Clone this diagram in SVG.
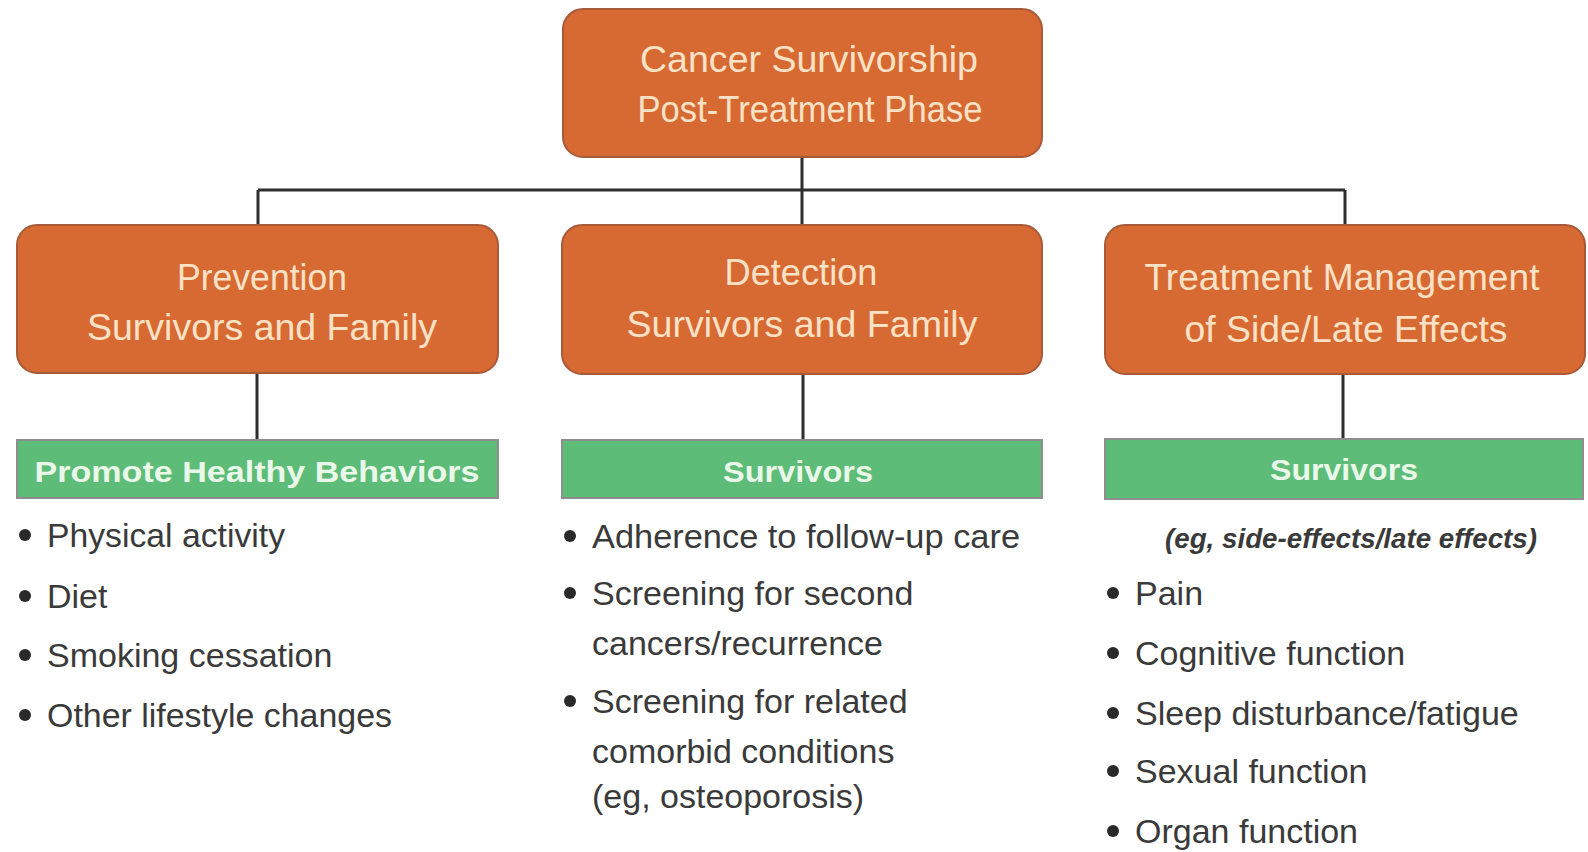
<svg xmlns="http://www.w3.org/2000/svg" width="1588" height="852" viewBox="0 0 1588 852">
<defs>
<style>
.ob{fill:#D76A33;stroke:#A65A3A;stroke-width:2}
.gb{fill:#5DBC77;stroke:#8E8E8E;stroke-width:2}
.ot{font-family:"Liberation Sans",Arial,sans-serif;font-size:37px;fill:#FBE2C6;text-anchor:middle}
.gt{font-family:"Liberation Sans",Arial,sans-serif;font-size:30px;font-weight:bold;fill:#EAF8EA;text-anchor:middle}
.lt{font-family:"Liberation Sans",Arial,sans-serif;font-size:34px;fill:#3A3A3A}
.it{font-family:"Liberation Sans",Arial,sans-serif;font-size:27px;font-weight:bold;font-style:italic;fill:#3A3A3A;text-anchor:middle}
.bu{fill:#2A2A2A}
.cn{fill:none;stroke:#2E2E2E;stroke-width:3}
</style>
</defs>
<rect width="1588" height="852" fill="#FFFFFF"/>
<g id="connectors">
<path class="cn" d="M802 157 V190 M258 190 H1345 M258 190 V225 M802 190 V225 M1345 190 V225"/>
<path class="cn" d="M257 373 V440 M803 374 V440 M1343 374 V439"/>
</g>
<g id="root">
<rect class="ob" x="563" y="9" width="479" height="148" rx="20"/>
<text class="ot" x="809" y="72" textLength="338" lengthAdjust="spacingAndGlyphs">Cancer Survivorship</text>
<text class="ot" x="810" y="122" textLength="345" lengthAdjust="spacingAndGlyphs">Post-Treatment Phase</text>
</g>
<g id="prevention">
<rect class="ob" x="17" y="225" width="481" height="148" rx="20"/>
<text class="ot" x="262" y="290" textLength="170" lengthAdjust="spacingAndGlyphs">Prevention</text>
<text class="ot" x="262" y="340" textLength="350" lengthAdjust="spacingAndGlyphs">Survivors and Family</text>
</g>
<g id="detection">
<rect class="ob" x="562" y="225" width="480" height="149" rx="20"/>
<text class="ot" x="801" y="285" textLength="153" lengthAdjust="spacingAndGlyphs">Detection</text>
<text class="ot" x="802" y="337" textLength="351" lengthAdjust="spacingAndGlyphs">Survivors and Family</text>
</g>
<g id="treatment">
<rect class="ob" x="1105" y="225" width="480" height="149" rx="20"/>
<text class="ot" x="1342" y="290" textLength="395" lengthAdjust="spacingAndGlyphs">Treatment Management</text>
<text class="ot" x="1346" y="342" textLength="323" lengthAdjust="spacingAndGlyphs">of Side/Late Effects</text>
</g>
<g id="promote">
<rect class="gb" x="17" y="440" width="481" height="58"/>
<text class="gt" x="257" y="482" textLength="445" lengthAdjust="spacingAndGlyphs">Promote Healthy Behaviors</text>
</g>
<g id="survivors-detection">
<rect class="gb" x="562" y="440" width="480" height="58"/>
<text class="gt" x="798" y="482" textLength="150" lengthAdjust="spacingAndGlyphs">Survivors</text>
</g>
<g id="survivors-treatment">
<rect class="gb" x="1105" y="439" width="478" height="60"/>
<text class="gt" x="1344" y="480" textLength="148" lengthAdjust="spacingAndGlyphs">Survivors</text>
</g>
<g id="list-prevention">
<circle class="bu" cx="25" cy="535" r="6"/><text class="lt" x="47" y="547" textLength="238" lengthAdjust="spacingAndGlyphs">Physical activity</text>
<circle class="bu" cx="25" cy="596" r="6"/><text class="lt" x="47" y="608">Diet</text>
<circle class="bu" cx="25" cy="655" r="6"/><text class="lt" x="47" y="667">Smoking cessation</text>
<circle class="bu" cx="25" cy="715" r="6"/><text class="lt" x="47" y="727" textLength="345" lengthAdjust="spacingAndGlyphs">Other lifestyle changes</text>
</g>
<g id="list-detection">
<circle class="bu" cx="570" cy="536" r="6"/><text class="lt" x="592" y="548" textLength="428" lengthAdjust="spacingAndGlyphs">Adherence to follow-up care</text>
<circle class="bu" cx="570" cy="593" r="6"/><text class="lt" x="592" y="605">Screening for second</text>
<text class="lt" x="592" y="655">cancers/recurrence</text>
<circle class="bu" cx="570" cy="701" r="6"/><text class="lt" x="592" y="713">Screening for related</text>
<text class="lt" x="592" y="763">comorbid conditions</text>
<text class="lt" x="592" y="808">(eg, osteoporosis)</text>
</g>
<g id="list-treatment">
<text class="it" x="1351" y="548" textLength="372" lengthAdjust="spacingAndGlyphs">(eg, side-effects/late effects)</text>
<circle class="bu" cx="1113" cy="593" r="6"/><text class="lt" x="1135" y="605">Pain</text>
<circle class="bu" cx="1113" cy="653" r="6"/><text class="lt" x="1135" y="665">Cognitive function</text>
<circle class="bu" cx="1113" cy="713" r="6"/><text class="lt" x="1135" y="725">Sleep disturbance/fatigue</text>
<circle class="bu" cx="1113" cy="771" r="6"/><text class="lt" x="1135" y="783">Sexual function</text>
<circle class="bu" cx="1113" cy="831" r="6"/><text class="lt" x="1135" y="843">Organ function</text>
</g>
</svg>
